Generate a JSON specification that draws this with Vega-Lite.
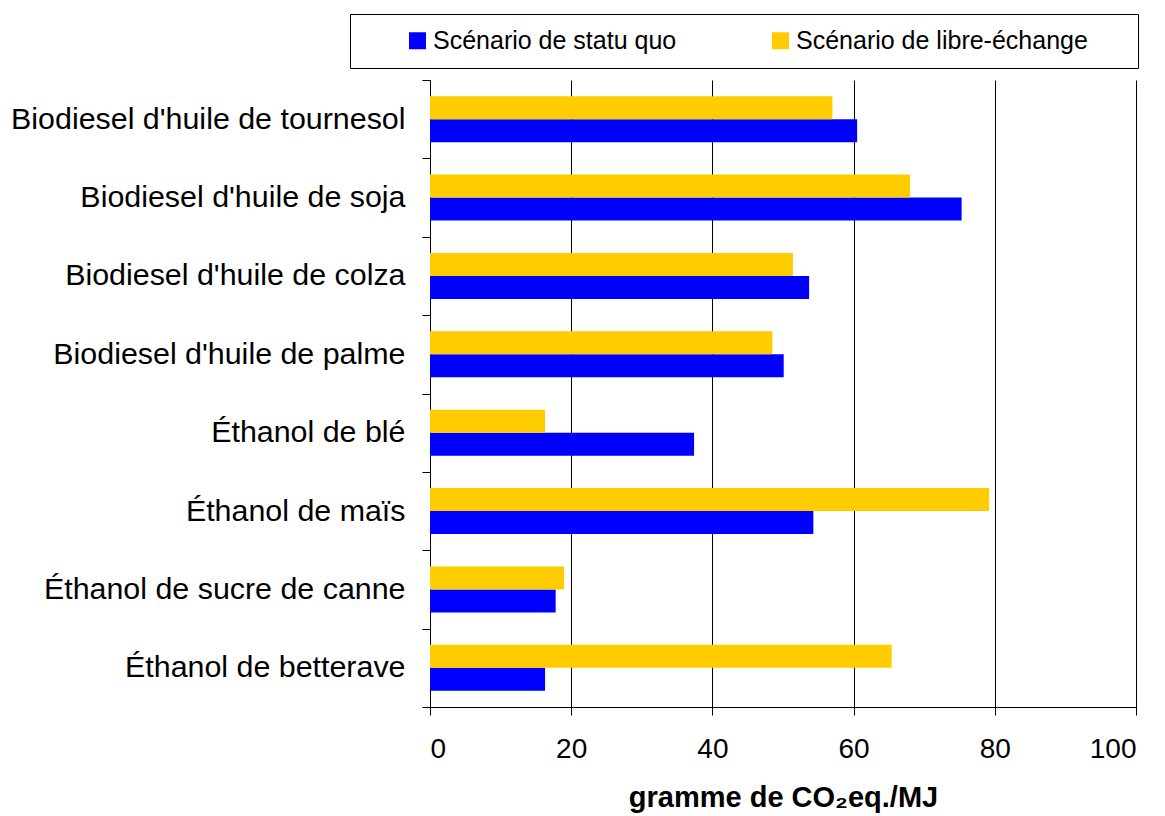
{
  "$schema": "https://vega.github.io/schema/vega-lite/v6.json",
  "autosize": {"type": "none"},
  "padding": {"left": 430, "top": 80, "right": 29, "bottom": 109},
  "width": 706,
  "height": 627,
  "background": "white",
  "config": {
    "font": "Liberation Sans",
    "view": {"stroke": null},
    "axis": {"domainColor": "black", "tickColor": "black", "gridColor": "black", "labelColor": "black", "titleColor": "black"}
  },
  "data": {
    "values": [
      {"filiere": "Biodiesel d'huile de tournesol", "scenario": "Scénario de statu quo", "valeur": 60.5},
      {"filiere": "Biodiesel d'huile de tournesol", "scenario": "Scénario de libre-échange", "valeur": 57.0},
      {"filiere": "Biodiesel d'huile de soja", "scenario": "Scénario de statu quo", "valeur": 75.3},
      {"filiere": "Biodiesel d'huile de soja", "scenario": "Scénario de libre-échange", "valeur": 68.0},
      {"filiere": "Biodiesel d'huile de colza", "scenario": "Scénario de statu quo", "valeur": 53.7},
      {"filiere": "Biodiesel d'huile de colza", "scenario": "Scénario de libre-échange", "valeur": 51.4},
      {"filiere": "Biodiesel d'huile de palme", "scenario": "Scénario de statu quo", "valeur": 50.1},
      {"filiere": "Biodiesel d'huile de palme", "scenario": "Scénario de libre-échange", "valeur": 48.5},
      {"filiere": "Éthanol de blé", "scenario": "Scénario de statu quo", "valeur": 37.4},
      {"filiere": "Éthanol de blé", "scenario": "Scénario de libre-échange", "valeur": 16.3},
      {"filiere": "Éthanol de maïs", "scenario": "Scénario de statu quo", "valeur": 54.3},
      {"filiere": "Éthanol de maïs", "scenario": "Scénario de libre-échange", "valeur": 79.2},
      {"filiere": "Éthanol de sucre de canne", "scenario": "Scénario de statu quo", "valeur": 17.8},
      {"filiere": "Éthanol de sucre de canne", "scenario": "Scénario de libre-échange", "valeur": 19.0},
      {"filiere": "Éthanol de betterave", "scenario": "Scénario de statu quo", "valeur": 16.3},
      {"filiere": "Éthanol de betterave", "scenario": "Scénario de libre-échange", "valeur": 65.4}
    ]
  },
  "mark": {"type": "bar"},
  "encoding": {
    "y": {
      "field": "filiere",
      "type": "nominal",
      "sort": null,
      "scale": {"paddingInner": 0, "paddingOuter": 0},
      "axis": {
        "title": null,
        "grid": false,
        "tickBand": "extent",
        "tickSize": 8,
        "labelFontSize": 30.4,
        "labelPadding": 17,
        "labelLimit": 500
      }
    },
    "x": {
      "field": "valeur",
      "type": "quantitative",
      "scale": {"domain": [0, 100], "nice": false},
      "axis": {
        "title": "gramme de CO₂eq./MJ",
        "titleFontSize": 29,
        "titleFontWeight": "bold",
        "titlePadding": 20,
        "values": [0, 20, 40, 60, 80, 100],
        "grid": true,
        "tickSize": 8,
        "labelFontSize": 28,
        "labelPadding": 20
      }
    },
    "yOffset": {
      "field": "scenario",
      "type": "nominal",
      "scale": {"domain": ["Scénario de libre-échange", "Scénario de statu quo"], "paddingInner": 0, "paddingOuter": 0.705}
    },
    "color": {
      "field": "scenario",
      "type": "nominal",
      "scale": {"domain": ["Scénario de statu quo", "Scénario de libre-échange"], "range": ["#0000FF", "#FFCC00"]},
      "legend": {
        "title": " ",
        "titleOrient": "right",
        "titleFontSize": 20,
        "titlePadding": 36,
        "orient": "none",
        "legendX": -80,
        "legendY": -66,
        "direction": "horizontal",
        "strokeColor": "black",
        "fillColor": "white",
        "padding": 14,
        "symbolType": "square",
        "symbolSize": 289,
        "symbolStrokeWidth": 0,
        "symbolOffset": 41,
        "labelFontSize": 25,
        "labelOffset": 3,
        "labelColor": "black",
        "columnPadding": 50,
        "labelLimit": 400
      }
    }
  }
}
